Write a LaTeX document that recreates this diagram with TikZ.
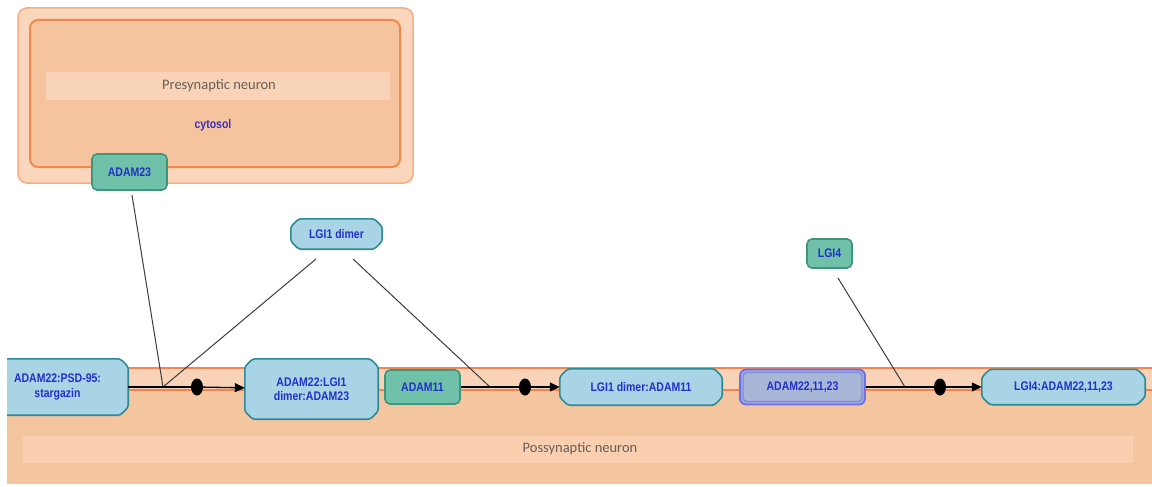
\documentclass[tikz,border=0pt]{standalone}
\usepackage{fontspec}
\setmainfont{Liberation Sans}
\newfontfamily\nodefont[FakeStretch=0.84]{Liberation Sans}
\newfontfamily\compfont{Carlito}
\usetikzlibrary{shapes.geometric,arrows.meta}

\definecolor{preOuterFill}{HTML}{FAD6BC}
\definecolor{preOuterLine}{HTML}{F4AE84}
\definecolor{preInnerFill}{HTML}{F5C49E}
\definecolor{preInnerLine}{HTML}{EF8A4E}
\definecolor{bandFill}{HTML}{F9D3B7}
\definecolor{postFill}{HTML}{F3C6A0}
\definecolor{postBand}{HTML}{F9CFB0}
\definecolor{membLine}{HTML}{F08552}
\definecolor{membBand}{HTML}{F8D3B7}
\definecolor{cplxFill}{HTML}{A9D4E6}
\definecolor{cplxLine}{HTML}{2E8A95}
\definecolor{protFill}{HTML}{6FC2A9}
\definecolor{protLine}{HTML}{3F957C}
\definecolor{setFill}{HTML}{A8B7D8}
\definecolor{setGap}{HTML}{9CA6E6}
\definecolor{setLine}{HTML}{6E6EE8}
\definecolor{setInner}{HTML}{7A8CCB}
\definecolor{txtBlue}{HTML}{2230C8}
\definecolor{txtViolet}{HTML}{3A2FB8}
\definecolor{txtGray}{HTML}{6A5F57}
\definecolor{linkGray}{HTML}{3C3C3C}

% octagonal outline (cut corners) around a named node
\newcommand{\cutbox}[1]{%
  \draw[cplxshape]
    ([xshift=8pt]#1.north west) -- ([xshift=-8pt]#1.north east)
    -- ([yshift=-8pt]#1.north east) -- ([yshift=8pt]#1.south east)
    -- ([xshift=-8pt]#1.south east) -- ([xshift=8pt]#1.south west)
    -- ([yshift=8pt]#1.south west) -- ([yshift=-8pt]#1.north west) -- cycle;}

\begin{document}
\begin{tikzpicture}[x=1pt,y=-1pt,
  nodetext/.style={font=\nodefont\bfseries\fontsize{12.5}{14.5}\selectfont, text=txtBlue, align=center, inner sep=0pt},
  cplx/.style={nodetext, rectangle},
  cplxshape/.style={fill=cplxFill, draw=cplxLine, line width=1.6pt, rounded corners=2.5pt},
  prot/.style={nodetext, rectangle, rounded corners=5pt,
    fill=protFill, draw=protLine, line width=1.6pt},
  setnode/.style={nodetext, rectangle, rounded corners=6pt,
    fill=setGap, draw=setLine, line width=1.8pt},
  comptext/.style={font=\compfont\fontsize{14.5}{16}\selectfont, text=txtGray},
  rxn/.style={draw=black, line width=1.3pt},
  link/.style={draw=linkGray, line width=1pt},
  tip/.style={-{Triangle[length=10pt,width=9pt]}},
  proc/.style={ellipse, fill=black, minimum width=12pt, minimum height=17pt, inner sep=0pt}
]
\useasboundingbox (0,0) rectangle (1152,487);

% presynaptic compartment
\draw[fill=preOuterFill, draw=preOuterLine, line width=1.5pt, rounded corners=9pt]
  (18,8) rectangle (413,183);
\draw[fill=preInnerFill, draw=preInnerLine, line width=2pt, rounded corners=8pt]
  (30,20) rectangle (400,167);
\fill[bandFill] (46,72) rectangle (390,100);
\node[comptext] (prelabel) at (219,86) {Presynaptic neuron};
\node[nodetext, text=txtViolet] (cytosol) at (213,125) {cytosol};

% postsynaptic compartment with membrane
\begin{scope}
  \clip (7,0) rectangle (1152,484);
  \fill[postFill] (7,367) rectangle (1152,484);
  \fill[membBand] (7,369) rectangle (1152,389);
  \draw[membLine, line width=2pt] (7,368) -- (1152,368);
  \draw[membLine, line width=1.4pt] (7,390) -- (1152,390);
  \fill[postBand] (23,436) rectangle (1133,463);
  \node[cplx, minimum width=141pt, minimum height=56pt] (psd) at (57.5,387) {};
  \cutbox{psd}
  \node[nodetext] (psdlabel) at (psd.center) {ADAM22:PSD-95:\\stargazin};
\end{scope}
\node[comptext] (postlabel) at (580,449) {Possynaptic neuron};

% entities
\node[prot, minimum width=75pt, minimum height=36pt] (adam23) at (129.5,172) {ADAM23};

\node[cplx, minimum width=91pt, minimum height=30pt] (lgi1) at (336.5,234) {};
\cutbox{lgi1}
\node[nodetext] (lgi1label) at (lgi1.center) {LGI1 dimer};

\node[prot, minimum width=45pt, minimum height=29pt] (lgi4) at (829.5,253.5) {LGI4};

\node[cplx, minimum width=133pt, minimum height=60pt] (c1) at (311.5,389) {};
\cutbox{c1}
\node[nodetext] (c1label) at (c1.center) {ADAM22:LGI1\\dimer:ADAM23};

\node[prot, minimum width=75pt, minimum height=34pt] (adam11) at (422.5,387) {ADAM11};

\node[cplx, minimum width=162pt, minimum height=36pt] (c2) at (641,387) {};
\cutbox{c2}
\node[nodetext] (c2label) at (c2.center) {LGI1 dimer:ADAM11};

\node[setnode, minimum width=125pt, minimum height=35pt] (set) at (802.5,387) {};
\draw[fill=setFill, draw=setInner, line width=1pt, rounded corners=4pt]
  ([shift={(4pt,-4pt)}]set.north west) rectangle ([shift={(-4pt,4pt)}]set.south east);
\node[nodetext] (setlabel) at (set.center) {ADAM22,11,23};

\node[cplx, minimum width=163pt, minimum height=35pt] (c3) at (1063.5,387) {};
\cutbox{c3}
\node[nodetext] (c3label) at (c3.center) {LGI4:ADAM22,11,23};

% reaction points
\coordinate (j1) at (163,387);
\coordinate (j2) at (490,387);
\coordinate (j3) at (905,387);
\node[proc] (p1) at (197,387) {};
\node[proc] (p2) at (525,387) {};
\node[proc] (p3) at (940,387) {};

% free ends of the binding links
\coordinate (a23end) at (132,195);
\coordinate (lgiL) at (316,259);
\coordinate (lgiR) at (353,259);
\coordinate (lgi4end) at (838,278);

% reaction 1
\draw[link] (a23end) -- (j1);
\draw[link] (lgiL) -- (j1);
\draw[rxn] (psd.east) -- (j1) -- (p1);
\draw[rxn, tip] (p1) -- (c1);

% reaction 2
\draw[link] (lgiR) -- (j2);
\draw[rxn] (adam11) -- (j2) -- (p2);
\draw[rxn, tip] (p2) -- (c2);

% reaction 3
\draw[link] (lgi4end) -- (j3);
\draw[rxn] (set) -- (j3) -- (p3);
\draw[rxn, tip] (p3) -- (c3);
\end{tikzpicture}
\end{document}
